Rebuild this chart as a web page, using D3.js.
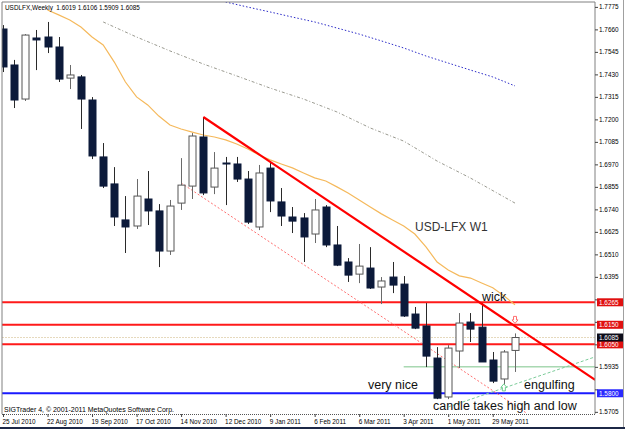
<!DOCTYPE html>
<html>
<head>
<meta charset="utf-8">
<script src="https://cdn.jsdelivr.net/npm/d3@7"></script>
<style>
body { margin: 0; background: #fff; }
text { font-family: "Liberation Sans", Arial, sans-serif; }
</style>
</head>
<body>
<script>
// weekly bars, first one = week of 25 Jul 2010
const opens  = [1.7662,1.7478,1.7304,1.7616,1.7621,1.7570,1.7411,1.7417,1.7299,1.7008,
                1.6870,1.6686,1.6655,1.6793,1.6732,1.6527,1.6772,1.6859,1.7110,1.6854,
                1.6977,1.6972,1.6895,1.6650,1.6951,1.6778,1.6701,1.6696,1.6614,1.6752,
                1.6558,1.6471,1.6409,1.6440,1.6343,1.6394,1.6358,1.6205,1.6144,1.5980,
                1.5781,1.6016,1.6164,1.6138,1.5970,1.5873,1.6019];
const highs  = [1.7682,1.7504,1.7636,1.7657,1.7698,1.7621,1.7478,1.7427,1.7314,1.7079,
                1.6956,1.6808,1.6895,1.6936,1.6767,1.6788,1.7002,1.7130,1.7212,1.7033,
                1.7008,1.7008,1.6936,1.6967,1.6987,1.6849,1.6752,1.6721,1.6793,1.6762,
                1.6655,1.6491,1.6563,1.6547,1.6394,1.6471,1.6399,1.6241,1.6261,1.6036,
                1.6046,1.6210,1.6210,1.6261,1.6011,1.6021,1.6106];
const lows   = [1.7442,1.7258,1.7294,1.7452,1.7539,1.7391,1.7355,1.7151,1.6997,1.6849,
                1.6655,1.6517,1.6640,1.6660,1.6445,1.6507,1.6737,1.6793,1.6813,1.6818,
                1.6762,1.6880,1.6665,1.6634,1.6726,1.6655,1.6619,1.6471,1.6568,1.6547,
                1.6450,1.6369,1.6363,1.6333,1.6256,1.6312,1.6190,1.6128,1.5934,1.5770,
                1.5770,1.5929,1.6062,1.5960,1.5852,1.5827,1.5909];
const closes = [1.7468,1.7299,1.7631,1.7606,1.7570,1.7406,1.7427,1.7304,1.7013,1.6859,
                1.6701,1.6650,1.6808,1.6732,1.6527,1.6757,1.6864,1.7115,1.6824,1.6951,
                1.6972,1.6895,1.6675,1.6926,1.6783,1.6706,1.6680,1.6599,1.6737,1.6558,
                1.6455,1.6404,1.6450,1.6338,1.6374,1.6353,1.6195,1.6133,1.5990,1.5775,
                1.6031,1.6159,1.6128,1.5960,1.5862,1.6011,1.6085];

// moving averages (bar index, value)
const maFastBars = [4,5,6,7,8,9,10,11,12,13,14,15,16,17,18,19,20,21,22,23,24,25,
                    26,27,28,29,30,31,32,33,34,35,36,37,38,39,40,41,42,43,44,45,46];
const maFast = [1.7759,1.7734,1.7708,1.7672,1.7621,1.7580,1.7493,1.7391,1.7315,1.7274,
                1.7217,1.7171,1.7151,1.7135,1.7120,1.7110,1.7095,1.7074,1.7049,1.7018,
                1.6993,1.6972,1.6952,1.6926,1.6901,1.6885,1.6855,1.6824,1.6788,1.6752,
                1.6717,1.6686,1.6655,1.6614,1.6548,1.6471,1.6430,1.6400,1.6389,1.6364,
                1.6339,1.6298,1.6252];
const maMidBars = [9,12,15,18,21,24,27,30,33,36,39,42,46];
const maMid = [1.7698,1.7621,1.7550,1.7483,1.7422,1.7360,1.7304,1.7238,1.7156,1.7089,1.6987,1.6900,1.6772];
const maSlowBars = [20,22,24,26,28,30,32,34,36,38,40,42,44,46];
const maSlow = [1.7800,1.7774,1.7749,1.7723,1.7698,1.7667,1.7636,1.7601,1.7565,1.7524,1.7488,1.7452,1.7417,1.7371];

const dateBars = [0,4,8,12,16,20,24,28,32,36,40,44];
const dateLabels = ["25 Jul 2010","22 Aug 2010","19 Sep 2010","17 Oct 2010","14 Nov 2010","12 Dec 2010",
                    "9 Jan 2011","6 Feb 2011","6 Mar 2011","3 Apr 2011","1 May 2011","29 May 2011"];
const priceTicks = [1.7775,1.7660,1.7545,1.7430,1.7315,1.7200,1.7085,1.6970,1.6855,1.6740,
                    1.6625,1.6510,1.6395,1.6280,1.6165,1.6050,1.5935,1.5820,1.5705];

const redLevels = [1.6265, 1.6150, 1.6050];
const blueLevel = 1.5800;
const greenLevel = 1.5935;
const lastPrice = 1.6085;

// trend lines [bar, price] pairs
const trendMain = [[18, 1.7212], [53.2, 1.5868]];
const trendChannel = [[16, 1.6875], [47, 1.5700]];
const trendGreen = [[40, 1.5730], [53.2, 1.5986]];

const W = 625, H = 429;
const plot = {left: 2, right: 595, top: 2, bottom: 414};

const svg = d3.select("body").append("svg")
    .attr("width", W)
    .attr("height", H);

svg.append("rect").attr("width", W).attr("height", H).attr("fill", "#fff");

const x = d3.scaleLinear().domain([0, 46]).range([3, 515]);
const y = d3.scaleLinear().domain([1.5694, 1.7800]).range([plot.bottom, plot.top]);

svg.append("clipPath").attr("id", "clip")
  .append("rect")
    .attr("x", plot.left).attr("y", plot.top)
    .attr("width", plot.right - plot.left).attr("height", plot.bottom - plot.top);

const g = svg.append("g").attr("clip-path", "url(#clip)");

// horizontal levels
g.append("line")
    .attr("x1", plot.left).attr("x2", plot.right)
    .attr("y1", y(lastPrice)).attr("y2", y(lastPrice))
    .attr("stroke", "#e6d9bd").attr("stroke-dasharray", "2,1");

g.selectAll(".lvl").data(redLevels).enter().append("line")
    .attr("class", "lvl")
    .attr("x1", plot.left).attr("x2", plot.right)
    .attr("y1", d => y(d)).attr("y2", d => y(d))
    .attr("stroke", "#ff1a1a").attr("stroke-width", 2);

g.append("line")
    .attr("x1", x(36)).attr("x2", plot.right)
    .attr("y1", y(greenLevel)).attr("y2", y(greenLevel))
    .attr("stroke", "#7cc48a").attr("stroke-width", 1);

g.append("line")
    .attr("x1", plot.left).attr("x2", plot.right)
    .attr("y1", y(blueLevel)).attr("y2", y(blueLevel))
    .attr("stroke", "#1a1aff").attr("stroke-width", 2);

// moving averages
const maLine = d3.line().x(d => x(d[0])).y(d => y(d[1]));

g.append("path")
    .attr("d", maLine(d3.zip(maSlowBars, maSlow)))
    .attr("fill", "none").attr("stroke", "#2a2ac8")
    .attr("stroke-width", 1).attr("stroke-dasharray", "1.5,2");

g.append("path")
    .attr("d", maLine(d3.zip(maMidBars, maMid)))
    .attr("fill", "none").attr("stroke", "#9a9a90")
    .attr("stroke-width", 1).attr("stroke-dasharray", "3,2,1,2");

g.append("path")
    .attr("d", maLine(d3.zip(maFastBars, maFast)))
    .attr("fill", "none").attr("stroke", "#f5b95c")
    .attr("stroke-width", 1.2);

// trend lines
g.append("path")
    .attr("d", maLine(trendChannel))
    .attr("fill", "none").attr("stroke", "#ff7070")
    .attr("stroke-width", 1).attr("stroke-dasharray", "2,2");

g.append("path")
    .attr("d", maLine(trendGreen))
    .attr("fill", "none").attr("stroke", "#7ccc9a")
    .attr("stroke-width", 1).attr("stroke-dasharray", "3,2");

// candles
const bars = d3.range(opens.length).map(i => ({
    i: i, o: opens[i], h: highs[i], l: lows[i], c: closes[i]
}));

const candle = g.selectAll(".candle").data(bars).enter().append("g")
    .attr("class", "candle");

candle.append("line")
    .attr("x1", d => Math.round(x(d.i)) + 0.5).attr("x2", d => Math.round(x(d.i)) + 0.5)
    .attr("y1", d => y(d.h)).attr("y2", d => y(d.l))
    .attr("stroke", d => d.c >= d.o ? "#6a6a6a" : "#2a2a2a");

candle.append("rect")
    .attr("x", d => Math.round(x(d.i)) - 3)
    .attr("y", d => y(Math.max(d.o, d.c)))
    .attr("width", 7)
    .attr("height", d => Math.max(1, Math.abs(y(d.o) - y(d.c))))
    .attr("fill", d => d.c >= d.o ? "#fff" : "#0c1a3a")
    .attr("stroke", d => d.c >= d.o ? "#555" : "#0c1a3a")
    .attr("stroke-width", 1);

g.append("path")
    .attr("d", maLine(trendMain))
    .attr("fill", "none").attr("stroke", "#ff0000")
    .attr("stroke-width", 2.2);

// arrow markers
function arrow(cx, cy, up) {
    const s = up ? -1 : 1;
    return "M" + (cx - 1.5) + "," + (cy - 3.5 * s) + "L" + (cx + 1.5) + "," + (cy - 3.5 * s) +
        "L" + (cx + 1.5) + "," + cy + "L" + (cx + 3) + "," + cy + "L" + cx + "," + (cy + 3.5 * s) +
        "L" + (cx - 3) + "," + cy + "L" + (cx - 1.5) + "," + cy + "Z";
}
g.append("path").attr("d", arrow(x(46), y(1.6175), false))
    .attr("fill", "#fff").attr("stroke", "#ff6f6f");
g.append("path").attr("d", arrow(x(45), y(1.5830), true))
    .attr("fill", "#fff").attr("stroke", "#6fcf8f");

// frame
svg.append("path")
    .attr("d", "M" + plot.left + "," + plot.bottom + "V" + plot.top + "H" + plot.right + "V" + plot.bottom)
    .attr("fill", "none").attr("stroke", "#808080");
svg.append("line")
    .attr("x1", plot.left).attr("x2", plot.right)
    .attr("y1", plot.bottom + 0.5).attr("y2", plot.bottom + 0.5)
    .attr("stroke", "#555").attr("stroke-dasharray", "1,1");
svg.append("line")
    .attr("x1", 623.5).attr("x2", 623.5).attr("y1", 0).attr("y2", 427)
    .attr("stroke", "#a0a0a0");

// level tags on the price axis
const tags = redLevels.map(v => ({v: v, bg: "#e01010"}))
    .concat([{v: lastPrice, bg: "#0d0d1a"}, {v: blueLevel, bg: "#2a2aff"}]);

// price axis (labels hidden under a tag are left out)
const yAxis = d3.axisRight(y).tickValues(priceTicks).tickSize(3).tickSizeOuter(0)
    .tickFormat(d => tags.some(t => Math.abs(y(t.v) - y(d)) < 9) ? "" : d3.format(".4f")(d));
const ya = svg.append("g")
    .attr("transform", "translate(" + plot.right + ",0)")
    .call(yAxis);
ya.select(".domain").remove();
ya.selectAll("line").attr("stroke", "#444");
ya.selectAll("text").attr("x", 4).attr("font-size", "6.4px").attr("fill", "#000")
    .attr("font-family", "Liberation Sans, Arial, sans-serif");

// date axis
const xAxis = d3.axisBottom(x).tickValues(dateBars).tickSize(3)
    .tickFormat((d, k) => dateLabels[k]);
const xa = svg.append("g")
    .attr("transform", "translate(0," + plot.bottom + ")")
    .call(xAxis);
xa.select(".domain").remove();
xa.selectAll("line").attr("stroke", "#444");
xa.selectAll("text").attr("text-anchor", "start").attr("x", -1).attr("y", 5)
    .attr("font-size", "6.4px").attr("fill", "#000")
    .attr("font-family", "Liberation Sans, Arial, sans-serif");

const tag = svg.selectAll(".tag").data(tags).enter().append("g").attr("class", "tag");
tag.append("rect")
    .attr("x", plot.right + 2).attr("y", d => y(d.v) - 4)
    .attr("width", 26).attr("height", 8)
    .attr("fill", d => d.bg);
tag.append("text")
    .attr("x", plot.right + 4).attr("y", d => y(d.v) + 2.3)
    .attr("font-size", "6.4px").attr("fill", "#fff")
    .text(d => d3.format(".4f")(d.v));

// titles and notes
svg.append("text").attr("x", 5).attr("y", 9.5).attr("font-size", "6.4px").attr("fill", "#000")
    .text("USDLFX,Weekly  1.6019 1.6106 1.5909 1.6085").attr("xml:space", "preserve");
svg.append("text").attr("x", 4).attr("y", 412).attr("font-size", "7px").attr("fill", "#000")
    .attr("textLength", 170).attr("lengthAdjust", "spacing")
    .text("SIGTrader 4, \u00a9 2001-2011 MetaQuotes Software Corp.");

svg.append("text").attr("x", 415).attr("y", 231).attr("font-size", "12px").attr("fill", "#333")
    .text("USD-LFX W1");
const notes = [
    ["wick", 482, 301],
    ["very nice", 368, 389],
    ["engulfing", 524, 389],
    ["candle takes high and low", 433, 409.5]
];
svg.selectAll(".note").data(notes).enter().append("text")
    .attr("class", "note")
    .attr("x", d => d[1]).attr("y", d => d[2])
    .attr("font-size", "12.5px").attr("fill", "#111")
    .text(d => d[0]);

// bottom strip
svg.append("rect").attr("x", 0).attr("y", 427).attr("width", W).attr("height", 2).attr("fill", "#1c2846");
</script>
</body>
</html>
